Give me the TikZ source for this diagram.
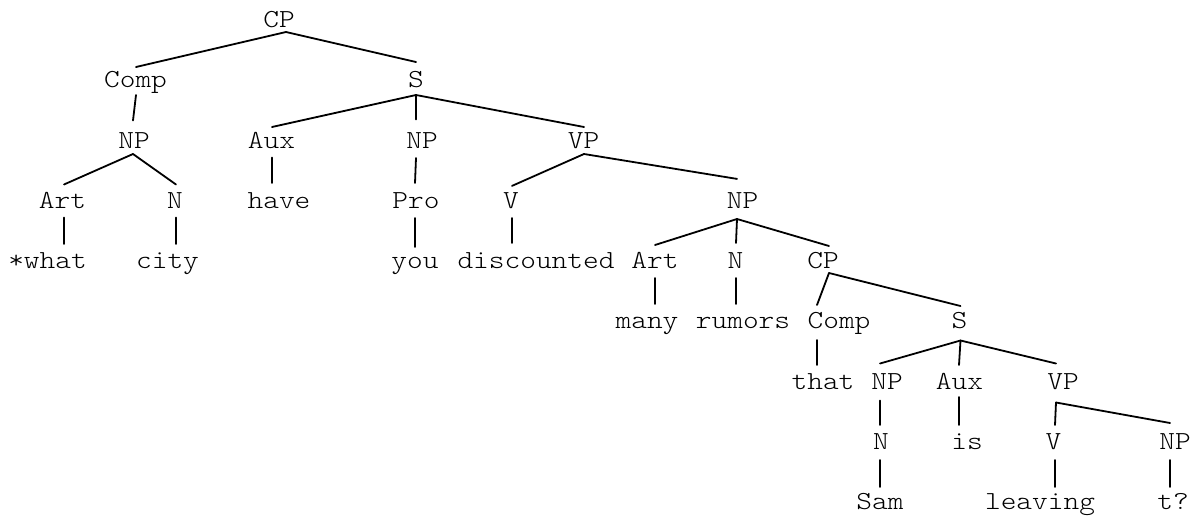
\documentclass[tikz,border=0pt]{standalone}
\usepackage{fontspec}
\newfontfamily\lbfont{Latin Modern Mono Light}[FakeStretch=1.15]
\tikzset{
  lbl/.style={anchor=base, inner sep=0pt, font=\lbfont\fontsize{26}{30}\selectfont},
  br/.style={line width=1.8pt, line cap=round}
}
% name, text x, anchor x, row y (cap centre), text, top offset, bottom offset
\newcommand\mkn[7]{%
  \node[lbl] (#1) at (#2,#4+7.5) {#5};
  \coordinate (#1-t) at (#3,#4-#6);
  \coordinate (#1-b) at (#3,#4+#7);
}
\begin{document}
\begin{tikzpicture}[x=1pt,y=-1pt]
\useasboundingbox (0,0) rectangle (1200,517);
% row 0
\mkn{cp0}{279}{286}{20}{CP}{0}{12}
% row 1
\mkn{comp1}{135.5}{136}{80}{Comp}{13}{15}
\mkn{s1}{416}{416}{80}{S}{18}{15}
% row 2
\mkn{np2a}{134}{133}{140.5}{NP}{20}{13.5}
\mkn{aux2}{271.5}{272}{140.5}{Aux}{13.5}{17}
\mkn{np2b}{422}{416}{140.5}{NP}{21}{17.5}
\mkn{vp2}{583.5}{584}{140.5}{VP}{13.5}{13.5}
% row 3
\mkn{art3}{62.5}{64}{200.5}{Art}{16}{17}
\mkn{n3}{175}{176}{200.5}{N}{16}{17}
\mkn{have3}{279}{279}{200.5}{have}{17.5}{0}
\mkn{pro3}{416}{415}{200.5}{Pro}{17.5}{17.5}
\mkn{v3}{511}{512}{200.5}{V}{14.6}{17.5}
\mkn{np3c}{742.5}{737}{200.5}{NP}{21.6}{18.5}
% row 4
\mkn{what4}{47.5}{47.5}{261}{*what}{17}{0}
\mkn{city4}{167.5}{167.5}{261}{city}{17}{0}
\mkn{you4}{415}{415}{261}{you}{14}{0}
\mkn{disc4}{536}{536}{261}{discounted}{18}{0}
\mkn{art4}{655}{655}{261}{Art}{16}{17}
\mkn{n4}{735.5}{736}{261}{N}{18}{17}
\mkn{cp4}{823}{829}{261}{CP}{15}{12}
% row 5
\mkn{many5}{647}{647}{321}{many}{17}{0}
\mkn{rumors5}{743}{743}{321}{rumors}{17}{0}
\mkn{comp5}{839}{817}{321}{Comp}{16}{19}
\mkn{s5}{959.5}{960.5}{321}{S}{15}{19.5}
% row 6
\mkn{that6}{823}{823}{381.5}{that}{16.5}{0}
\mkn{np6}{887}{880}{381.5}{NP}{18}{19}
\mkn{aux6}{959.5}{959}{381.5}{Aux}{16.5}{15.5}
\mkn{vp6}{1063}{1056}{381.5}{VP}{18}{21}
% row 7
\mkn{n7}{881}{880}{441.5}{N}{16.5}{18.5}
\mkn{is7}{967}{967}{441.5}{is}{16.5}{0}
\mkn{v7}{1053.5}{1055}{441.5}{V}{16.5}{18.5}
\mkn{np7}{1175}{1170}{441.5}{NP}{18.5}{18.5}
% row 8
\mkn{sam8}{880}{880}{501.5}{Sam}{14.5}{0}
\mkn{leaving8}{1040}{1040}{501.5}{leaving}{14.5}{0}
\mkn{t8}{1173}{1173}{501.5}{t?}{14.5}{0}
% branches
\draw[br] (cp0-b) -- (comp1-t);
\draw[br] (cp0-b) -- (s1-t);
\draw[br] (comp1-b) -- (np2a-t);
\draw[br] (s1-b) -- (aux2-t);
\draw[br] (s1-b) -- (np2b-t);
\draw[br] (s1-b) -- (vp2-t);
\draw[br] (np2a-b) -- (art3-t);
\draw[br] (np2a-b) -- (n3-t);
\draw[br] (aux2-b) -- (aux2-b |- have3-t);
\draw[br] (np2b-b) -- (pro3-t);
\draw[br] (vp2-b) -- (v3-t);
\draw[br] (vp2-b) -- (np3c-t);
\draw[br] (art3-b) -- (art3-b |- what4-t);
\draw[br] (n3-b) -- (n3-b |- city4-t);
\draw[br] (pro3-b) -- (pro3-b |- you4-t);
\draw[br] (v3-b) -- (v3-b |- disc4-t);
\draw[br] (np3c-b) -- (art4-t);
\draw[br] (np3c-b) -- (n4-t);
\draw[br] (np3c-b) -- (cp4-t);
\draw[br] (art4-b) -- (art4-b |- many5-t);
\draw[br] (n4-b) -- (n4-b |- rumors5-t);
\draw[br] (cp4-b) -- (comp5-t);
\draw[br] (cp4-b) -- (s5-t);
\draw[br] (comp5-b) -- (comp5-b |- that6-t);
\draw[br] (s5-b) -- (np6-t);
\draw[br] (s5-b) -- (aux6-t);
\draw[br] (s5-b) -- (vp6-t);
\draw[br] (np6-b) -- (n7-t);
\draw[br] (aux6-b) -- (aux6-b |- is7-t);
\draw[br] (vp6-b) -- (v7-t);
\draw[br] (vp6-b) -- (np7-t);
\draw[br] (n7-b) -- (n7-b |- sam8-t);
\draw[br] (v7-b) -- (v7-b |- leaving8-t);
\draw[br] (np7-b) -- (np7-b |- t8-t);
\end{tikzpicture}
\end{document}
